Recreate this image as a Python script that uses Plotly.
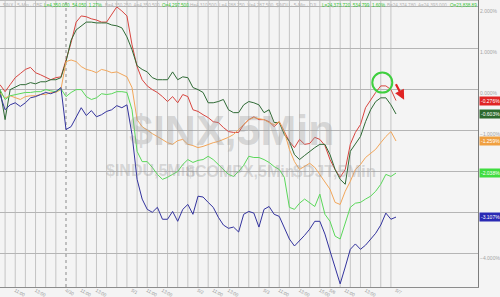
import plotly.graph_objects as go

# ---- data (percent change, 30-minute samples) ----
red = [0.11, -0.06, 0.11, 0.28, 0.38, 0.48, 0.53, 0.40, 0.35, 0.28, 0.23, 0.28, 0.30,
       0.71, 1.13, 1.63, 1.78, 1.76, 1.71, 1.68, 1.63, 1.63, 1.80, 2.00, 1.90, 1.78,
       1.08, 0.55, 0.23, 0.08, -0.01, -0.08, -0.18, -0.30, -0.18, -0.33, -0.13, -0.18, -0.50,
       -0.54, -0.62, -0.69, -0.79, -0.81, -0.93, -1.03, -1.05, -1.05, -0.86, -0.74, -0.67, -0.74,
       -0.74, -0.79, -0.91, -0.79, -1.03, -1.27, -1.42, -1.22, -1.34, -1.32, -1.17, -1.22, -1.37,
       -1.71, -1.95, -2.14, -1.95, -1.34, -1.05, -0.86, -0.45, -0.25, -0.08, 0.08, 0.08, -0.01, -0.276]
dgreen = [-0.01, -0.74, -0.01, 0.06, 0.11, 0.11, 0.16, 0.13, 0.18, 0.18, 0.23, 0.23, 0.28,
          0.67, 1.19, 1.44, 1.54, 1.63, 1.63, 1.61, 1.61, 1.61, 1.56, 1.54, 1.49, 1.27,
          0.96, 0.57, 0.48, 0.42, 0.28, 0.23, 0.23, 0.23, 0.42, 0.23, 0.30, 0.28, 0.04,
          -0.01, -0.08, -0.33, -0.33, -0.30, -0.25, -0.50, -0.57, -0.57, -0.38, -0.30, -0.33, -0.38,
          -0.57, -0.50, -0.81, -0.81, -1.10, -1.27, -1.59, -1.71, -1.61, -1.51, -1.42, -1.34, -1.34,
          -1.59, -1.95, -2.19, -2.31, -1.51, -1.34, -1.15, -0.79, -0.50, -0.30, -0.21, -0.21, -0.38, -0.603]
orange = [-0.08, -0.21, -0.16, -0.21, -0.25, -0.18, -0.16, -0.16, -0.13, -0.13, -0.08, -0.08, -0.01,
          0.67, 0.71, 0.67, 0.55, 0.48, 0.45, 0.40, 0.48, 0.45, 0.40, 0.42, 0.35, 0.30,
          0.04, -0.74, -0.91, -1.00, -1.08, -1.15, -1.22, -1.30, -1.34, -1.25, -1.22, -1.34, -1.37,
          -1.42, -1.39, -1.34, -1.30, -1.27, -1.22, -1.17, -1.10, -0.98, -0.86, -0.74, -0.69, -0.71,
          -0.74, -0.81, -0.86, -0.79, -1.03, -1.46, -1.76, -1.95, -1.88, -1.80, -1.90, -2.07, -2.24,
          -2.43, -2.75, -2.80, -2.48, -2.24, -1.95, -1.83, -1.66, -1.56, -1.46, -1.30, -1.15, -1.03, -1.259]
lgreen = [-0.01, -0.25, -0.16, -0.13, -0.11, -0.08, -0.08, -0.06, -0.06, -0.01, -0.04, -0.06, 0.01,
          -0.18, -0.08, -0.01, -0.01, -0.18, -0.25, -0.21, -0.11, -0.13, -0.11, -0.06, -0.06, -0.08,
          -0.50, -1.51, -1.76, -1.76, -1.90, -2.07, -2.19, -2.14, -2.07, -2.00, -1.83, -1.71, -1.78,
          -1.73, -1.71, -1.63, -1.71, -1.83, -1.95, -2.07, -2.12, -2.00, -1.85, -1.63, -1.66, -1.66,
          -1.71, -1.78, -1.88, -1.95, -2.14, -2.87, -2.92, -2.77, -2.67, -2.75, -2.85, -2.55, -3.04,
          -3.21, -3.57, -3.64, -3.28, -2.87, -2.77, -2.75, -2.67, -2.60, -2.48, -2.31, -2.07, -2.12, -2.038]
blue = [-0.13, -0.50, -0.38, -0.33, -0.42, -0.33, -0.21, -0.18, -0.13, -0.08, -0.11, -0.06, 0.04,
        -0.98, -0.91, -0.67, -0.45, -0.64, -0.52, -0.67, -0.62, -0.54, -0.50, -0.40, -0.45, -0.38,
        -1.10, -2.19, -2.67, -2.92, -2.99, -2.87, -3.16, -3.16, -2.97, -3.21, -2.92, -2.80, -3.04,
        -2.60, -2.62, -2.75, -2.87, -3.11, -3.30, -3.38, -3.35, -3.47, -3.04, -2.97, -3.01, -3.35,
        -2.92, -2.85, -3.04, -3.09, -3.35, -3.64, -3.81, -3.69, -3.55, -3.40, -3.21, -3.21, -3.52,
        -3.93, -4.32, -4.73, -4.32, -3.89, -3.76, -3.89, -3.79, -3.64, -3.50, -3.30, -3.01, -3.16, -3.107]

tick_idx = [3, 7, 13, 16, 19, 26, 29, 32, 39, 42, 45, 52, 55, 59, 63, 65, 68, 72, 78]
tick_txt = ["11:00", "13:00", "4/30", "11:00", "13:00", "5/1", "11:00", "13:00", "5/2",
            "11:00", "13:00", "5/3", "11:00", "13:00", "15:00", "5/6", "11:00", "13:00", "5/7"]
day_sep = 13

series = [
    ("S&P", red, "#d8453f", "#e02424"),
    ("Dow", dgreen, "#2f6a35", "#2d6a2d"),
    ("Nasdaq", orange, "#f2a65a", "#f0a040"),
    ("Russell", lgreen, "#5ad85a", "#3fdc3f"),
    ("Trans", blue, "#33339e", "#2a2ab4"),
]

n = len(red)
t = list(range(n))

fig = go.Figure()
for name, vals, lc, tc in series:
    fig.add_trace(go.Scatter(x=t, y=vals, mode="lines", name=name,
                             line=dict(color=lc, width=1), hoverinfo="skip"))

shapes = []
for i in range(1, n, 2):
    if i == day_sep:
        continue
    shapes.append(dict(type="line", xref="x", yref="paper", x0=i, x1=i, y0=0, y1=1,
                       line=dict(color="#c4c4c4", width=1), layer="below"))
shapes.append(dict(type="line", xref="x", yref="paper", x0=day_sep, x1=day_sep, y0=0, y1=1,
                   line=dict(color="#8a8a8a", width=1, dash="dot"), layer="below"))
# top border
shapes.append(dict(type="line", xref="paper", yref="paper", x0=0, x1=1, y0=1, y1=1,
                   line=dict(color="#bdbdbd", width=2)))
# green highlight circle around the last peak of the red series
pk = max(range(n - 6, n - 1), key=lambda k: red[k])
shapes.append(dict(type="circle", xref="x", yref="y", xsizemode="pixel", ysizemode="pixel",
                   xanchor=pk + 0.3, yanchor=red[pk] + 0.08, x0=-10, x1=10, y0=-10, y1=10,
                   line=dict(color="#3fcf3f", width=2)))

ann = []
# value tags
for name, vals, lc, tc in series:
    ann.append(dict(xref="paper", yref="y", x=1, y=vals[-1], xanchor="left", yanchor="middle",
                    xshift=1, text=f"{vals[-1]:.3f}%", showarrow=False, bgcolor=tc,
                    font=dict(size=5, color="white", family="Liberation Sans"), borderpad=1))
# red arrow
ann.append(dict(xref="x", yref="y", x=n + 0.6, y=red[-1] + 0.02, ax=-9, ay=-17,
                showarrow=True, arrowhead=2, arrowsize=0.9, arrowwidth=2.2, arrowcolor="#e02424",
                text=""))
# watermarks
wm = "rgba(150,150,150,0.33)"
ann.append(dict(xref="paper", yref="paper", x=0.485, y=0.548, text="<b>$INX,5Min</b>",
                showarrow=False, font=dict(size=43, color=wm, family="Liberation Sans")))
ann.append(dict(xref="paper", yref="paper", x=0.218, y=0.405, text="<b>$INDU,5Min</b>",
                showarrow=False, font=dict(size=16, color=wm, family="Liberation Sans")))
ann.append(dict(xref="paper", yref="paper", x=0.503, y=0.402, text="<b>$COMPX,5Min</b>",
                showarrow=False, font=dict(size=16, color=wm, family="Liberation Sans")))
ann.append(dict(xref="paper", yref="paper", x=0.79, y=0.402, text="<b>$DJT,5Min</b>",
                showarrow=False, font=dict(size=17, color=wm, family="Liberation Sans")))
# header text
g = "#b3b3b3"
gr = "#36c436"
hdr = [
    (1, "$INX · 5-Min · CBE", g),
    (42, "L=4,350.000  54.050  1.27%", gr),
    (103, "B=4,350.250  A=4,350.500", g),
    (160, "O=4,297.500", gr),
    (188, "H=4,310.500  L=4,288.250  V=4,287,500  $INDU · 5-Min · DJI", g),
    (320, "L=24,373.720  534.799  1.60%", gr),
    (385, "B=24,374.780  A=24,393.000", g),
    (448, "O=23,838.89", gr),
]
for xp, txt, c in hdr:
    ann.append(dict(xref="paper", yref="paper", x=xp / 478, y=1, xanchor="left", yanchor="top",
                    yshift=-1, text=txt, showarrow=False,
                    font=dict(size=4.6, color=c, family="Liberation Sans")))

fig.update_layout(
    width=500, height=297,
    margin=dict(l=0, r=22, t=0, b=10, autoexpand=False),
    paper_bgcolor="#f4f4f4", plot_bgcolor="#f4f4f4",
    showlegend=False,
    shapes=shapes, annotations=ann,
    xaxis=dict(range=[0, 94.15], tickvals=tick_idx, ticktext=tick_txt, showgrid=False,
               zeroline=False, showline=True, linecolor="#8c8c8c", linewidth=1,
               ticks="", ticklabelstandoff=-2,
               tickfont=dict(size=4.6, color="#9a9a9a", family="Liberation Sans"),
               automargin=False),
    yaxis=dict(range=[-4.806, 2.167], side="right", dtick=1, tick0=0,
               tickformat=".3f", ticksuffix="%", showgrid=True, gridcolor="#b5b5b5",
               gridwidth=1, zeroline=False, showline=True, linecolor="#7d7d7d", linewidth=1,
               ticks="", tickfont=dict(size=5, color="#a5a5a5", family="Liberation Sans"),
               ticklabelshift=4, automargin=False),
)

fig.write_html("out.html")
